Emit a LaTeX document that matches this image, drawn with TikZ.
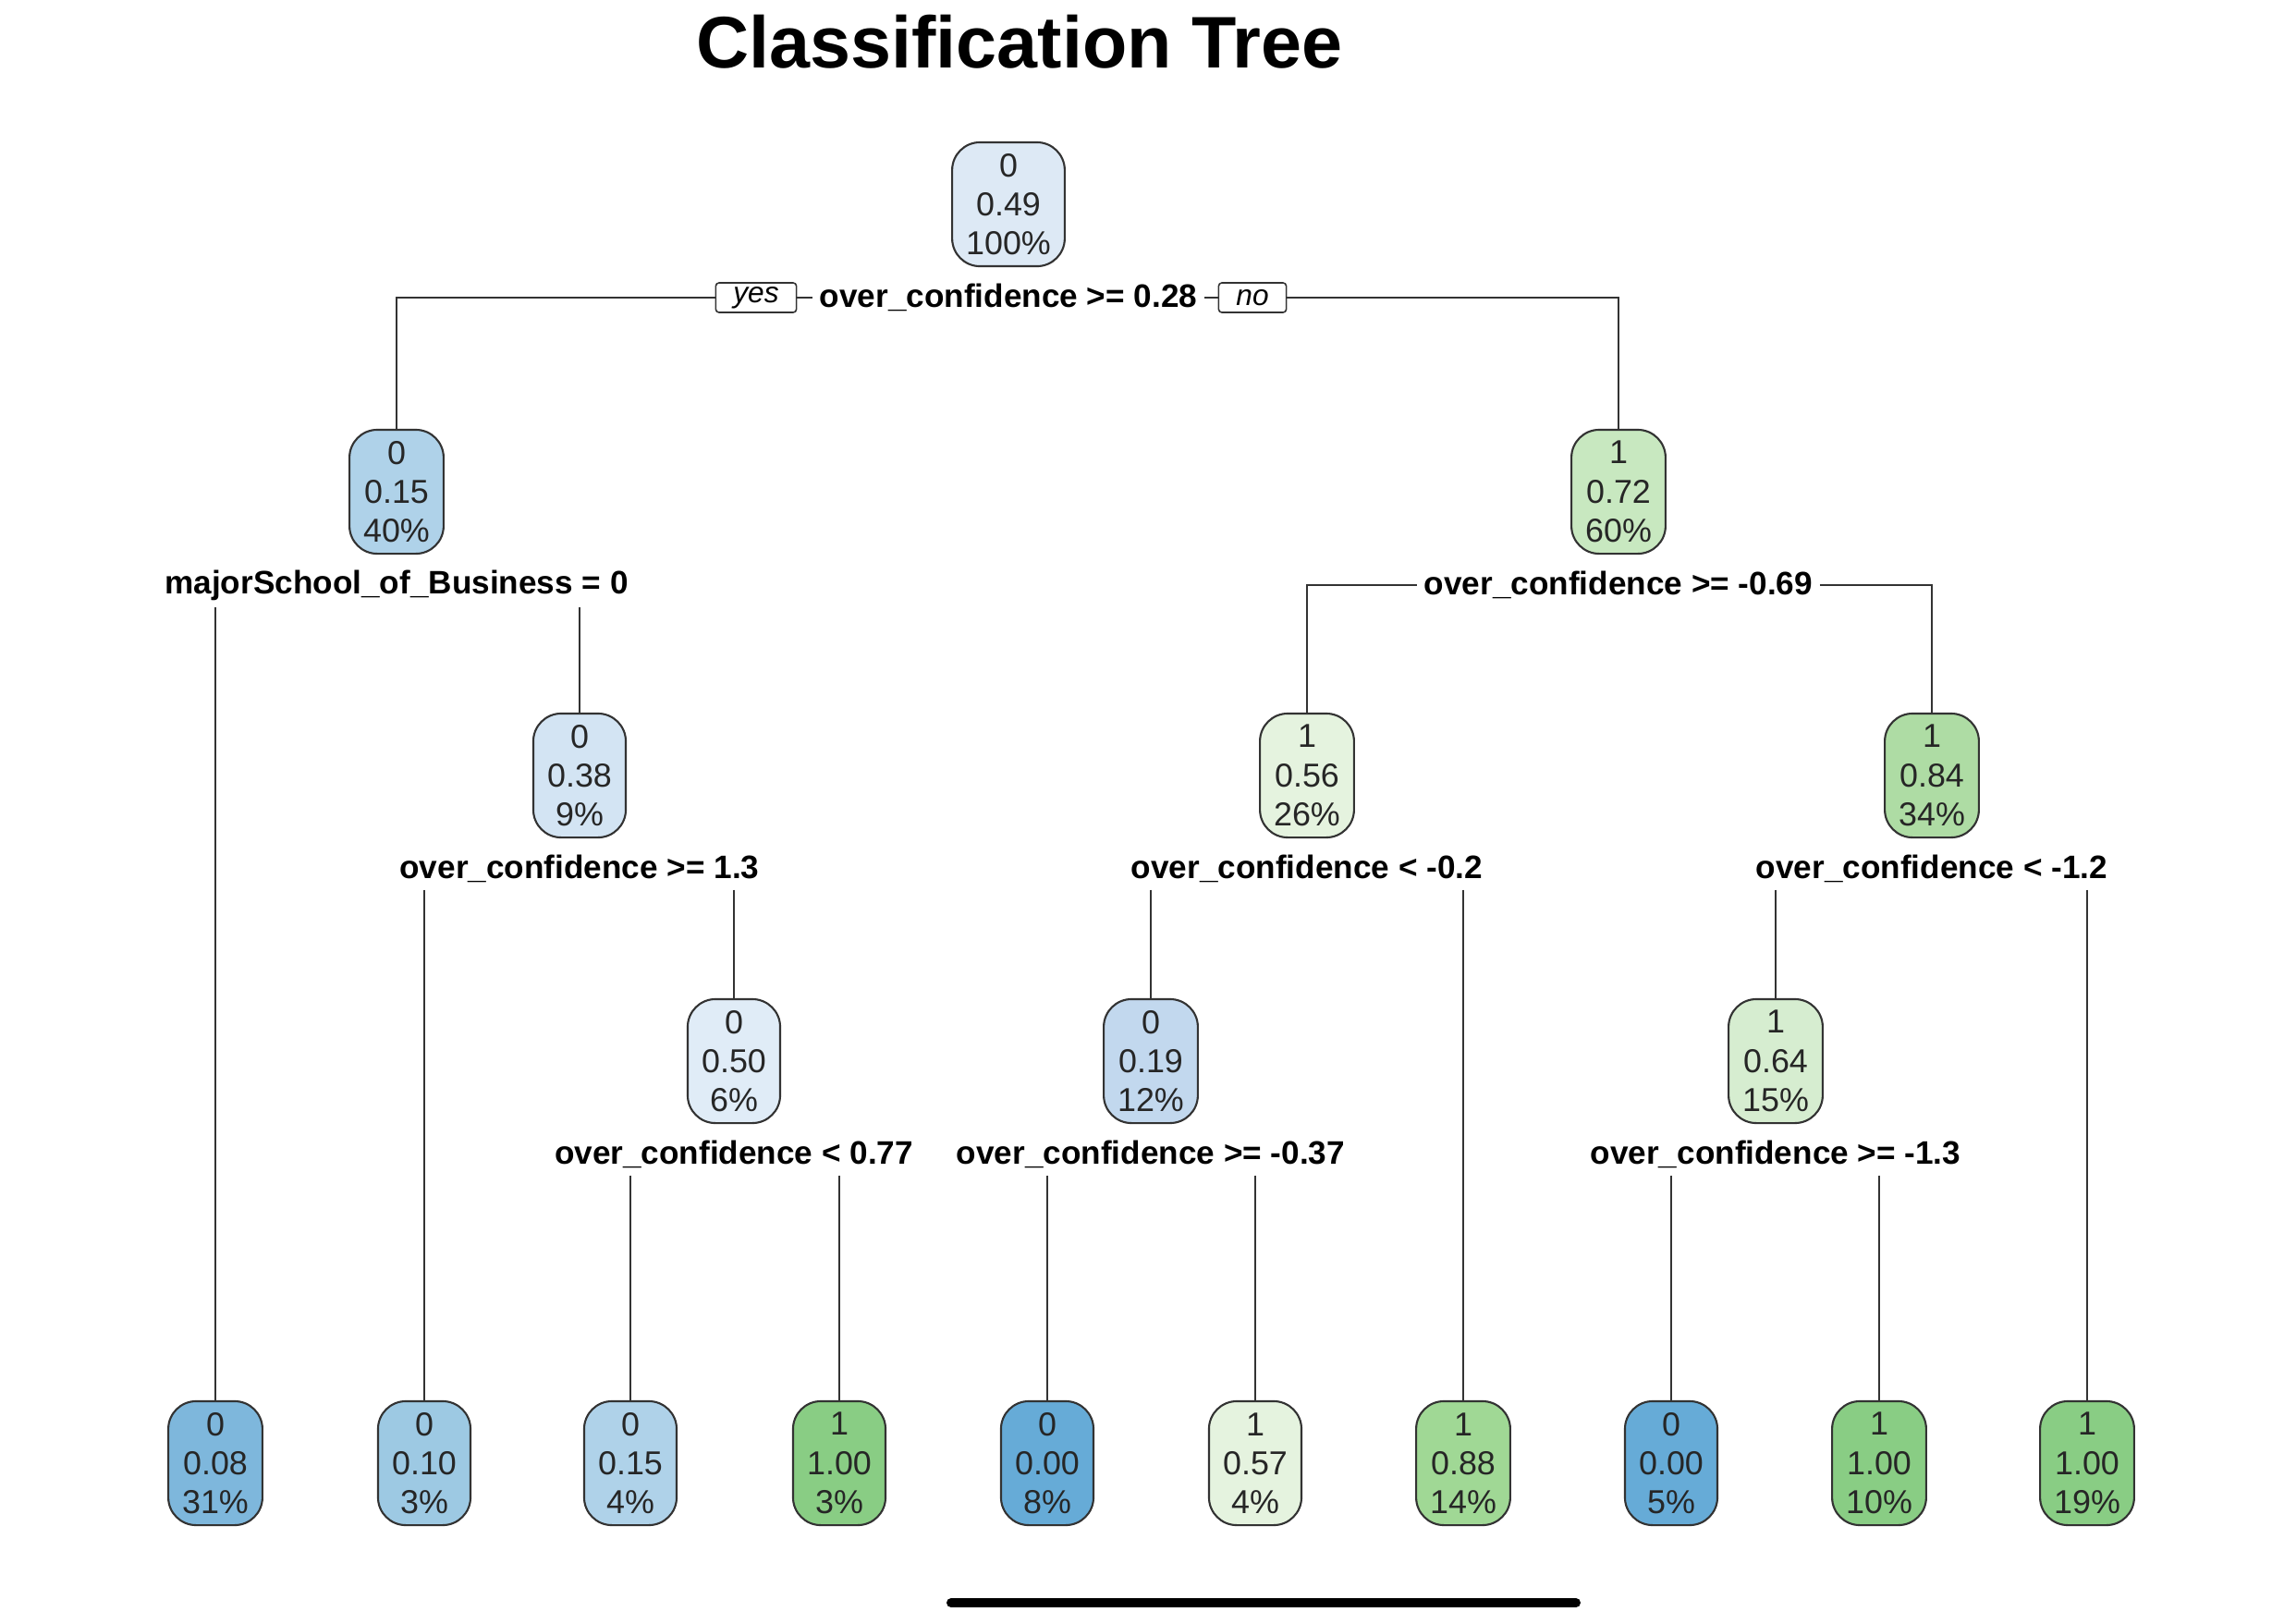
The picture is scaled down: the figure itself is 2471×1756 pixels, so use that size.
\documentclass[tikz,border=0pt]{standalone}
\usepackage{fontspec}
\setmainfont{Liberation Sans}
\definecolor{blue1}{HTML}{DDE9F5}
\definecolor{blue2}{HTML}{E0ECF7}
\definecolor{blue3}{HTML}{D3E4F3}
\definecolor{blue4}{HTML}{C2D8EE}
\definecolor{blue5}{HTML}{AFD2E9}
\definecolor{blue6}{HTML}{9DC9E3}
\definecolor{blue7}{HTML}{7EB7DC}
\definecolor{blue8}{HTML}{66ABD7}
\definecolor{green1}{HTML}{E5F3DF}
\definecolor{green2}{HTML}{D6EDD0}
\definecolor{green3}{HTML}{C8E8C0}
\definecolor{green4}{HTML}{AEDCA4}
\definecolor{green5}{HTML}{A0D895}
\definecolor{green6}{HTML}{89CD84}
\definecolor{edge}{HTML}{333333}
\begin{document}
\begin{tikzpicture}[x=0.01cm, y=-0.01cm, line width=0.45pt, draw=edge,
  main/.style = {draw=edge, fill=#1, line width=0.6pt, rounded corners=0.3cm, minimum width=1.0cm, minimum height=1.34cm, inner xsep=0.15cm, align=center, text=black!85, font=\fontsize{10.2}{12}\selectfont},
  cut/.style = {inner sep=2pt, font=\fontsize{10}{12}\selectfont\bfseries},
  tag/.style = {draw=edge, rounded corners=1pt, inner xsep=0.19cm, inner ysep=0pt, minimum height=0.32cm, font=\fontsize{9}{10}\selectfont\itshape}]
  \useasboundingbox (0,0) rectangle (2471,1756);
  \node[font=\fontsize{22.5}{26}\selectfont\bfseries] (title) at (1103,45) {Classification Tree};
  \node[main=blue1] (n1) at (1091,221) {0\\0.49\\100\%};
  \node[cut] (s1) at (1091,322) {over\_confidence >= 0.28};
  \node[tag] (yes) at (818,322) {yes};
  \node[tag] (no) at (1355,322) {no};
  \node[main=blue5] (n2) at (429,532) {0\\0.15\\40\%};
  \node[main=green3] (n3) at (1751,532) {1\\0.72\\60\%};
  \node[cut] (s2) at (429,633) {majorSchool\_of\_Business = 0};
  \node[cut] (s3) at (1751,633) {over\_confidence >= -0.69};
  \node[main=blue3] (n4) at (627,839) {0\\0.38\\9\%};
  \node[main=green1] (n6) at (1414,839) {1\\0.56\\26\%};
  \node[main=green4] (n7) at (2090,839) {1\\0.84\\34\%};
  \node[cut] (s4) at (627,940) {over\_confidence >= 1.3};
  \node[cut] (s6) at (1414,940) {over\_confidence < -0.2};
  \node[cut] (s7) at (2090,940) {over\_confidence < -1.2};
  \node[main=blue2] (n9) at (794,1148) {0\\0.50\\6\%};
  \node[main=blue4] (n12) at (1245,1148) {0\\0.19\\12\%};
  \node[main=green2] (n14) at (1921,1148) {1\\0.64\\15\%};
  \node[cut] (s9) at (794,1249) {over\_confidence < 0.77};
  \node[cut] (s12) at (1245,1249) {over\_confidence >= -0.37};
  \node[cut] (s14) at (1921,1249) {over\_confidence >= -1.3};
  \node[main=blue7] (l1) at (233,1583) {0\\0.08\\31\%};
  \node[main=blue6] (l2) at (459,1583) {0\\0.10\\3\%};
  \node[main=blue5] (l3) at (682,1583) {0\\0.15\\4\%};
  \node[main=green6] (l4) at (908,1583) {1\\1.00\\3\%};
  \node[main=blue8] (l5) at (1133,1583) {0\\0.00\\8\%};
  \node[main=green1] (l6) at (1358,1583) {1\\0.57\\4\%};
  \node[main=green5] (l7) at (1583,1583) {1\\0.88\\14\%};
  \node[main=blue8] (l8) at (1808,1583) {0\\0.00\\5\%};
  \node[main=green6] (l9) at (2033,1583) {1\\1.00\\10\%};
  \node[main=green6] (l10) at (2258,1583) {1\\1.00\\19\%};
  \draw (n2.north) |- (yes.west);
  \draw (yes.east) to (s1.west);
  \draw (s1.east) to (no.west);
  \draw (no.east) -| (n3.north);
  \draw (s2.south -| l1.north) to (l1.north);
  \draw (s2.south -| n4.north) to (n4.north);
  \draw (n6.north) |- (s3.west);
  \draw (s3.east) -| (n7.north);
  \draw (s4.south -| l2.north) to (l2.north);
  \draw (s4.south -| n9.north) to (n9.north);
  \draw (s6.south -| n12.north) to (n12.north);
  \draw (s6.south -| l7.north) to (l7.north);
  \draw (s7.south -| n14.north) to (n14.north);
  \draw (s7.south -| l10.north) to (l10.north);
  \draw (s9.south -| l3.north) to (l3.north);
  \draw (s9.south -| l4.north) to (l4.north);
  \draw (s12.south -| l5.north) to (l5.north);
  \draw (s12.south -| l6.north) to (l6.north);
  \draw (s14.south -| l8.north) to (l8.north);
  \draw (s14.south -| l9.north) to (l9.north);
  \draw[black, line width=0.1cm, line cap=round] (1029,1734) -- (1705,1734);
\end{tikzpicture}
\end{document}
